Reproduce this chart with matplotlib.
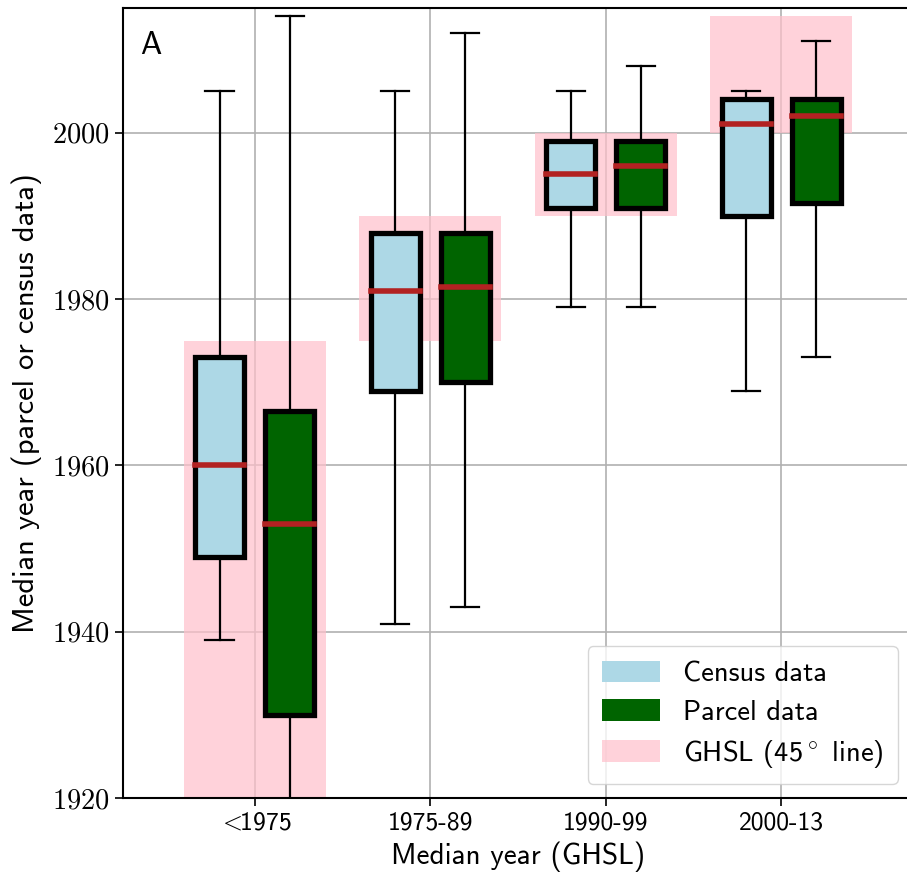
import matplotlib
matplotlib.use("Agg")
import matplotlib.pyplot as plt
from matplotlib.patches import Patch, Rectangle

plt.rcParams["font.family"] = ["cmss10", "DejaVu Sans"]
plt.rcParams["mathtext.fontset"] = "cm"
plt.rcParams["axes.unicode_minus"] = False

# GHSL median-year bins
groups = [r"${<}\!\!$1975", "1975-89", "1990-99", "2000-13"]
ghsl_lo = [1920, 1975, 1990, 2000]
ghsl_hi = [1975, 1990, 2000, 2014]

# box stats: lower whisker, q1, median, q3, upper whisker
census_whislo = [1939, 1941, 1979, 1969]
census_q1 = [1949, 1969, 1991, 1990]
census_med = [1960, 1981, 1995, 2001]
census_q3 = [1973, 1988, 1999, 2004]
census_whishi = [2005, 2005, 2005, 2005]

parcel_whislo = [1900, 1943, 1979, 1973]
parcel_q1 = [1930, 1970, 1991, 1991.5]
parcel_med = [1953, 1981.5, 1996, 2002]
parcel_q3 = [1966.5, 1988, 1999, 2004]
parcel_whishi = [2014, 2012, 2008, 2011]

yticks = [1920, 1940, 1960, 1980, 2000]


def make_stats(lo, q1, med, q3, hi):
    return [dict(whislo=a, q1=b, med=c, q3=d, whishi=e, fliers=[])
            for a, b, c, d, e in zip(lo, q1, med, q3, hi)]


fig = plt.figure(figsize=(9.07, 8.82), dpi=100)
ax = fig.add_axes([0.1356, 0.095, 0.871, 0.896])

pos = list(range(len(groups)))

# 45 degree reference: the GHSL bin range for each group
for x, lo, hi in zip(pos, ghsl_lo, ghsl_hi):
    ax.add_patch(Rectangle((x - 0.405, lo), 0.81, hi - lo,
                           facecolor="pink", alpha=0.7, edgecolor="none", zorder=2))

common = dict(widths=0.28, capwidths=0.16, patch_artist=True, showfliers=False, manage_ticks=False,
              boxprops=dict(linewidth=3.8, edgecolor="black"),
              medianprops=dict(color="firebrick", linewidth=4, solid_capstyle="projecting"),
              whiskerprops=dict(linewidth=1.6, color="black"),
              capprops=dict(linewidth=1.6, color="black"),
              zorder=3)

b1 = ax.bxp(make_stats(census_whislo, census_q1, census_med, census_q3, census_whishi),
            positions=[p - 0.2 for p in pos], **common)
b2 = ax.bxp(make_stats(parcel_whislo, parcel_q1, parcel_med, parcel_q3, parcel_whishi),
            positions=[p + 0.2 for p in pos], **common)
for b in b1["boxes"]:
    b.set_facecolor("lightblue")
for b in b2["boxes"]:
    b.set_facecolor("darkgreen")

ax.set_xlim(-0.75, 3.75)
ax.set_ylim(1920, 2015)
ax.set_xticks(pos)
ax.set_xticklabels(groups, fontsize=18.5)
ax.set_yticks(yticks)
ax.set_yticklabels([f"${t}$" for t in yticks], fontsize=20.5)
ax.tick_params(length=6, width=1.2)
ax.grid(True, color="#b0b0b0", linewidth=1.2)
for s in ax.spines.values():
    s.set_linewidth(1.5)

ax.set_xlabel("Median year (GHSL)", fontsize=21, labelpad=5)
ax.set_ylabel("Median year (parcel or census data)", fontsize=22, labelpad=7)
ax.text(0.022, 0.952, "A", transform=ax.transAxes, fontsize=23, va="center")

handles = [Patch(facecolor="lightblue", label="Census data"),
           Patch(facecolor="darkgreen", label="Parcel data"),
           Patch(facecolor="pink", alpha=0.7, label=r"GHSL (45$^\circ$ line)")]
ax.legend(handles=handles, loc="lower right", bbox_to_anchor=(0.999, 0.0), fontsize=20.5,
          handlelength=2.05, handleheight=0.8, borderpad=0.5, labelspacing=0.45,
          handletextpad=0.8)

fig.savefig("out.png", dpi=100)
